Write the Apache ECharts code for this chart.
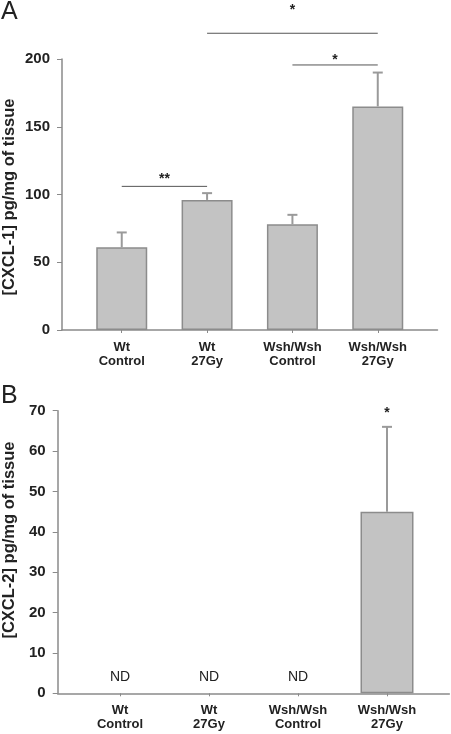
<!DOCTYPE html>
<html>
<head>
<meta charset="utf-8">
<script src="https://cdn.jsdelivr.net/npm/echarts@6/dist/echarts.min.js"></script>
<style>html,body{margin:0;padding:0;background:#fff}#c{width:451px;height:734px}</style>
</head>
<body>
<div id="c"></div>
<script>
// ---- data ----
const categories = ['Wt\nControl', 'Wt\n27Gy', 'Wsh/Wsh\nControl', 'Wsh/Wsh\n27Gy'];
const cxcl1Mean = [61, 96, 78, 165];
const cxcl1Err = [11, 5, 7, 25];
const cxcl2Mean = [null, null, null, 45];
const cxcl2Err = [null, null, null, 21];
const yTicksA = [0, 50, 100, 150, 200];
const yTicksB = [0, 10, 20, 30, 40, 50, 60, 70];
// significance brackets, panel A
const sigFrom = [1, 2, 0];
const sigTo = [3, 3, 1];
const sigLineY = [219, 195.6, 106];
const sigText = ['*', '*', '**'];
const sigTextY = [236, 199.5, 111];
// panel B
const sigBCat = [3];
const sigBText = ['*'];
const sigBY = [69.5];
const ndLabel = 'ND';
const ndY = 4;

const FONT = 'Arial, "Liberation Sans", Helvetica, sans-serif';
const AX = '#8a8a8a';
const TXT = '#222';

function errData(mean, err) {
  const out = [];
  mean.forEach((m, i) => { if (m != null) out.push([i, m, err[i]]); });
  return out;
}
function barData(mean) {
  const out = [];
  mean.forEach((m, i) => { if (m != null) out.push([i, m]); });
  return out;
}
function errRender(params, api) {
  const x = api.value(0), m = api.value(1), e = api.value(2);
  const p0 = api.coord([x, m]);
  const p1 = api.coord([x, m + e]);
  const st = { stroke: '#9a9a9a', lineWidth: 2 };
  return {
    type: 'group',
    children: [
      { type: 'line', shape: { x1: p0[0], y1: p0[1], x2: p1[0], y2: p1[1] }, style: st },
      { type: 'line', shape: { x1: p1[0] - 5, y1: p1[1], x2: p1[0] + 5, y2: p1[1] }, style: st }
    ]
  };
}

const sigData = sigFrom.map((f, i) => [f, sigTo[i], sigLineY[i], sigTextY[i], i]);
const sigBData = sigBCat.map((c, i) => [c, sigBY[i], i]);
const ndData = [];
cxcl2Mean.forEach((m, i) => { if (m == null) ndData.push([i, ndY]); });

function xAxisCfg(gi) {
  return {
    type: 'value', gridIndex: gi, min: -0.7, max: 3.7,
    axisLine: { show: true, onZero: false, lineStyle: { color: AX, width: 1.5 } },
    splitLine: { show: false },
    axisTick: { show: true, customValues: [0, 1, 2, 3], length: 3, lineStyle: { color: AX, width: 1 } },
    axisLabel: {
      customValues: [0, 1, 2, 3],
      formatter: v => categories[Math.round(v)],
      fontFamily: FONT, fontWeight: 'bold', fontSize: 13, color: TXT,
      lineHeight: 14, margin: 10
    }
  };
}
function yAxisCfg(gi, max, interval) {
  return {
    type: 'value', gridIndex: gi, min: 0, max: max, interval: interval,
    axisLine: { show: true, onZero: false, lineStyle: { color: AX, width: 1.5 } },
    splitLine: { show: false },
    axisTick: { show: true, length: 5, lineStyle: { color: AX, width: 1 } },
    axisLabel: { fontFamily: FONT, fontWeight: 'bold', fontSize: 15, color: TXT, margin: 12 }
  };
}

const chart = echarts.init(document.getElementById('c'), null, { renderer: 'canvas' });
chart.setOption({
  animation: false,
  backgroundColor: '#fff',
  grid: [
    { left: 62, right: 13.5, top: 59, height: 271 },
    { left: 57.7, right: 1.7, top: 410.7, height: 282.6 }
  ],
  xAxis: [xAxisCfg(0), xAxisCfg(1)],
  yAxis: [yAxisCfg(0, yTicksA[yTicksA.length - 1], 50), yAxisCfg(1, yTicksB[yTicksB.length - 1], 10)],
  graphic: [
    { type: 'text', left: 1, top: 0, style: { text: 'A', font: '25px ' + FONT, fill: TXT } },
    { type: 'text', left: 1, top: 384, style: { text: 'B', font: '25px ' + FONT, fill: TXT } },
    { type: 'text', x: 9, y: 197, rotation: Math.PI / 2,
      style: { text: '[CXCL-1] pg/mg of tissue', font: 'bold 16.5px ' + FONT, fill: TXT, align: 'center', verticalAlign: 'middle' } },
    { type: 'text', x: 9, y: 540, rotation: Math.PI / 2,
      style: { text: '[CXCL-2] pg/mg of tissue', font: 'bold 16.5px ' + FONT, fill: TXT, align: 'center', verticalAlign: 'middle' } }
  ],
  series: [
    {
      type: 'bar', xAxisIndex: 0, yAxisIndex: 0, barWidth: 51,
      data: barData(cxcl1Mean),
      itemStyle: { color: '#c3c3c3', borderColor: '#8c8c8c', borderWidth: 1.5 }
    },
    {
      type: 'custom', xAxisIndex: 0, yAxisIndex: 0, z: 5, clip: false,
      data: errData(cxcl1Mean, cxcl1Err), renderItem: errRender
    },
    {
      type: 'custom', xAxisIndex: 0, yAxisIndex: 0, z: 5, clip: false,
      data: sigData,
      renderItem: function (params, api) {
        const a = api.coord([api.value(0), api.value(2)]);
        const b = api.coord([api.value(1), api.value(2)]);
        const t = api.coord([(api.value(0) + api.value(1)) / 2, api.value(3)]);
        return {
          type: 'group',
          children: [
            { type: 'line', shape: { x1: a[0], y1: a[1], x2: b[0], y2: b[1] }, style: { stroke: '#555', lineWidth: 1 } },
            { type: 'text', x: t[0], y: t[1], style: { text: sigText[api.value(4)], font: 'bold 14px ' + FONT, fill: TXT, align: 'center', verticalAlign: 'middle' } }
          ]
        };
      }
    },
    {
      type: 'bar', xAxisIndex: 1, yAxisIndex: 1, barWidth: 53,
      data: barData(cxcl2Mean),
      itemStyle: { color: '#c3c3c3', borderColor: '#8c8c8c', borderWidth: 1.5 }
    },
    {
      type: 'custom', xAxisIndex: 1, yAxisIndex: 1, z: 5, clip: false,
      data: errData(cxcl2Mean, cxcl2Err), renderItem: errRender
    },
    {
      type: 'custom', xAxisIndex: 1, yAxisIndex: 1, z: 5, clip: false,
      data: sigBData,
      renderItem: function (params, api) {
        const t = api.coord([api.value(0), api.value(1)]);
        return { type: 'text', x: t[0], y: t[1], style: { text: sigBText[api.value(2)], font: 'bold 14px ' + FONT, fill: TXT, align: 'center', verticalAlign: 'middle' } };
      }
    },
    {
      type: 'custom', xAxisIndex: 1, yAxisIndex: 1, z: 5, clip: false,
      data: ndData,
      renderItem: function (params, api) {
        const t = api.coord([api.value(0), api.value(1)]);
        return { type: 'text', x: t[0], y: t[1], style: { text: ndLabel, font: '14px ' + FONT, fill: TXT, align: 'center', verticalAlign: 'middle' } };
      }
    }
  ]
});
</script>
</body>
</html>
